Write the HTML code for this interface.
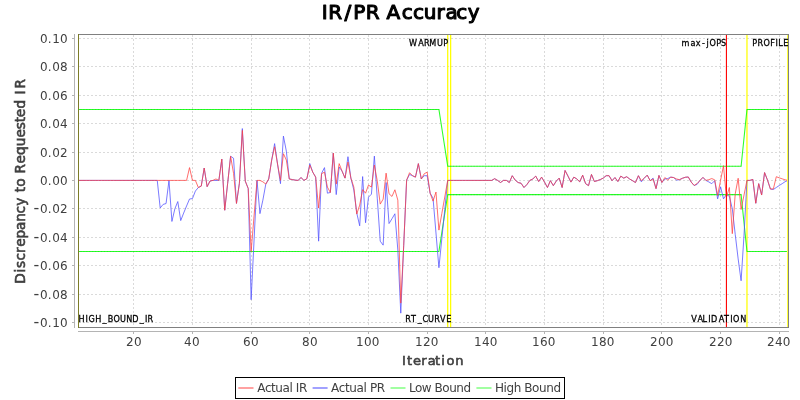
<!DOCTYPE html>
<html lang="en"><head><meta charset="utf-8"><title>IR/PR Accuracy</title>
<style>html,body{margin:0;padding:0;background:#fff;}body{width:800px;height:400px;overflow:hidden;}svg{display:block;}text{font-family:'DejaVu Sans','Liberation Sans',sans-serif;}</style>
</head><body>
<svg width="800" height="400" viewBox="0 0 800 400">
<rect x="0" y="0" width="800" height="400" fill="#ffffff"/>
<text x="321.7 328.2 344.4 353.3 365.7 380.1 386.6 401.8 413.0 423.8 436.4 445.5 456.2 467.8" y="19.3" font-size="20" fill="#000" stroke="#000" stroke-width="1.1" stroke-linejoin="round">IR/PR Accuracy</text>
<g stroke="#dadada" stroke-width="1" stroke-dasharray="2,2" shape-rendering="crispEdges" fill="none">
<line x1="133.5" y1="35" x2="133.5" y2="327"/>
<line x1="192.5" y1="35" x2="192.5" y2="327"/>
<line x1="251.5" y1="35" x2="251.5" y2="327"/>
<line x1="309.5" y1="35" x2="309.5" y2="327"/>
<line x1="368.5" y1="35" x2="368.5" y2="327"/>
<line x1="427.5" y1="35" x2="427.5" y2="327"/>
<line x1="485.5" y1="35" x2="485.5" y2="327"/>
<line x1="544.5" y1="35" x2="544.5" y2="327"/>
<line x1="603.5" y1="35" x2="603.5" y2="327"/>
<line x1="661.5" y1="35" x2="661.5" y2="327"/>
<line x1="720.5" y1="35" x2="720.5" y2="327"/>
<line x1="779.5" y1="35" x2="779.5" y2="327"/>
<line x1="79" y1="322.5" x2="788" y2="322.5"/>
<line x1="79" y1="294.5" x2="788" y2="294.5"/>
<line x1="79" y1="265.5" x2="788" y2="265.5"/>
<line x1="79" y1="237.5" x2="788" y2="237.5"/>
<line x1="79" y1="208.5" x2="788" y2="208.5"/>
<line x1="79" y1="180.5" x2="788" y2="180.5"/>
<line x1="79" y1="152.5" x2="788" y2="152.5"/>
<line x1="79" y1="123.5" x2="788" y2="123.5"/>
<line x1="79" y1="95.5" x2="788" y2="95.5"/>
<line x1="79" y1="66.5" x2="788" y2="66.5"/>
<line x1="79" y1="38.5" x2="788" y2="38.5"/>
</g>
<g stroke="#ffff00" stroke-width="1.25" fill="none">
<line x1="447.71" y1="34.5" x2="447.71" y2="327.5"/>
<line x1="450.64" y1="34.5" x2="450.64" y2="327.5"/>
<line x1="746.97" y1="34.5" x2="746.97" y2="327.5"/>
</g>
<clipPath id="pa"><rect x="79" y="35" width="709" height="292"/></clipPath>
<g fill="none" stroke-width="1.05" stroke-linejoin="round" stroke-linecap="round" clip-path="url(#pa)">
<polyline stroke="#20ff20" stroke-opacity="0.95" points="78.04,109.40 438.91,109.40 447.71,166.20 741.10,166.20 746.97,109.40 788.04,109.40"/>
<polyline stroke="#20ff20" stroke-opacity="0.95" points="78.04,251.40 438.91,251.40 447.71,194.60 741.10,194.60 746.97,251.40 788.04,251.40"/>
<line x1="78.04" y1="109.40" x2="439.51" y2="109.40" stroke="#00c000" stroke-opacity="0.35" stroke-dasharray="1 1.9339" stroke-dashoffset="0.5" stroke-linecap="butt"/>
<line x1="447.71" y1="166.20" x2="741.70" y2="166.20" stroke="#00c000" stroke-opacity="0.35" stroke-dasharray="1 1.9339" stroke-dashoffset="0.5" stroke-linecap="butt"/>
<line x1="746.97" y1="109.40" x2="788.64" y2="109.40" stroke="#00c000" stroke-opacity="0.35" stroke-dasharray="1 1.9339" stroke-dashoffset="0.5" stroke-linecap="butt"/>
<line x1="78.04" y1="251.40" x2="439.51" y2="251.40" stroke="#00c000" stroke-opacity="0.35" stroke-dasharray="1 1.9339" stroke-dashoffset="0.5" stroke-linecap="butt"/>
<line x1="447.71" y1="194.60" x2="741.70" y2="194.60" stroke="#00c000" stroke-opacity="0.35" stroke-dasharray="1 1.9339" stroke-dashoffset="0.5" stroke-linecap="butt"/>
<line x1="746.97" y1="251.40" x2="788.64" y2="251.40" stroke="#00c000" stroke-opacity="0.35" stroke-dasharray="1 1.9339" stroke-dashoffset="0.5" stroke-linecap="butt"/>
<polyline stroke="#5555ff" stroke-opacity="0.78" stroke-width="1" points="78.04,180.40 80.97,180.40 83.91,180.40 86.84,180.40 89.78,180.40 92.71,180.40 95.64,180.40 98.58,180.40 101.51,180.40 104.44,180.40 107.38,180.40 110.31,180.40 113.25,180.40 116.18,180.40 119.11,180.40 122.05,180.40 124.98,180.40 127.92,180.40 130.85,180.40 133.78,180.40 136.72,180.40 139.65,180.40 142.59,180.40 145.52,180.40 148.45,180.40 151.39,180.40 154.32,180.40 157.25,180.40 160.19,207.95 163.12,204.40 166.06,203.55 168.99,180.40 171.92,221.44 174.86,208.80 177.79,201.56 180.73,220.59 183.66,213.06 186.59,205.96 189.53,199.00 192.46,198.58 195.40,191.05 198.33,187.50 201.26,186.08 204.20,168.05 207.13,186.65 210.06,180.97 213.00,180.40 215.93,180.40 218.87,180.40 221.80,159.10 224.73,210.22 227.67,183.24 230.60,156.26 233.54,158.25 236.47,203.40 239.40,183.24 242.34,128.57 245.27,181.11 248.21,188.49 251.14,299.68 254.07,240.04 257.01,180.40 259.94,213.63 262.87,200.14 265.81,184.09 268.74,178.98 271.68,160.09 274.61,143.62 277.54,164.07 280.48,183.67 283.41,136.10 286.35,151.15 289.28,178.98 292.21,179.55 295.15,180.12 298.08,180.40 301.02,177.56 303.95,180.40 306.88,178.70 309.82,163.64 312.75,172.16 315.68,177.13 318.62,241.18 321.55,173.30 324.49,167.62 327.42,193.18 330.35,192.47 333.29,153.14 336.22,194.60 339.16,167.05 342.09,171.17 345.02,178.13 347.96,156.69 350.89,178.13 353.83,190.06 356.76,213.06 359.69,225.84 362.63,176.57 365.56,222.72 368.49,197.16 371.43,194.17 374.36,156.12 377.30,198.86 380.23,241.18 383.16,245.15 386.10,182.53 389.03,223.57 391.97,218.74 394.90,213.77 397.83,249.98 400.77,313.17 403.70,245.72 406.64,180.12 409.57,174.44 412.50,175.71 415.44,177.13 418.37,163.64 421.30,178.98 424.24,175.71 427.17,175.71 430.11,193.18 433.04,198.15 435.97,232.94 438.91,267.73 441.84,238.62 444.78,209.51 447.71,180.40 450.64,180.40 453.58,180.40 456.51,180.40 459.44,180.40 462.38,180.40 465.31,180.40 468.25,180.40 471.18,180.40 474.11,180.40 477.05,180.40 479.98,180.40 482.92,180.40 485.85,180.40 488.78,180.40 491.72,180.40 494.65,178.70 497.59,180.40 500.52,182.53 503.45,180.40 506.39,180.40 509.32,182.53 512.25,175.71 515.19,180.12 518.12,182.53 521.06,183.24 523.99,187.50 526.92,184.52 529.86,180.40 532.79,178.98 535.73,176.14 538.66,181.54 541.59,177.13 544.53,182.10 547.46,187.50 550.40,180.68 553.33,185.65 556.26,181.11 559.20,178.13 562.13,187.50 565.06,170.46 568.00,176.14 570.93,182.10 573.87,177.13 576.80,178.98 579.73,181.82 582.67,175.15 585.60,183.67 588.54,185.65 591.47,174.44 594.40,181.54 597.34,180.68 600.27,179.55 603.21,178.13 606.14,175.71 609.07,175.71 612.01,180.68 614.94,177.56 617.87,181.54 620.81,176.14 623.74,178.13 626.68,176.71 629.61,178.98 632.54,180.68 635.48,182.53 638.41,175.71 641.35,181.82 644.28,178.13 647.21,175.15 650.15,180.68 653.08,178.13 656.02,188.64 658.95,175.43 661.88,182.53 664.82,178.98 667.75,178.55 670.68,177.13 673.62,177.56 676.55,180.12 679.49,179.69 682.42,178.27 685.35,177.28 688.29,176.99 691.22,182.10 694.16,185.51 697.09,184.38 700.02,180.40 702.96,177.42 705.89,180.40 708.83,181.96 711.76,183.67 714.69,180.68 717.63,198.86 720.56,186.79 723.49,198.86 726.43,194.46 729.36,196.30 732.30,208.80 735.23,234.36 738.16,258.93 741.10,280.79 744.03,235.07 746.97,180.40 749.90,180.40 752.83,179.41 755.77,203.26 758.70,183.67 761.64,195.03 764.57,172.59 767.50,180.12 770.44,189.06 773.37,189.49 776.30,187.50 779.24,185.51 782.17,183.67 785.11,181.68 788.04,180.40"/>
<polyline stroke="#ff4040" stroke-opacity="0.8" stroke-width="0.95" points="78.04,180.40 80.97,180.40 83.91,180.40 86.84,180.40 89.78,180.40 92.71,180.40 95.64,180.40 98.58,180.40 101.51,180.40 104.44,180.40 107.38,180.40 110.31,180.40 113.25,180.40 116.18,180.40 119.11,180.40 122.05,180.40 124.98,180.40 127.92,180.40 130.85,180.40 133.78,180.40 136.72,180.40 139.65,180.40 142.59,180.40 145.52,180.40 148.45,180.40 151.39,180.40 154.32,180.40 157.25,180.40 160.19,180.40 163.12,180.40 166.06,180.40 168.99,180.40 171.92,180.40 174.86,180.40 177.79,180.40 180.73,180.40 183.66,180.40 186.59,180.40 189.53,167.62 192.46,180.40 195.40,180.40 198.33,187.50 201.26,186.08 204.20,168.05 207.13,186.65 210.06,180.97 213.00,180.40 215.93,178.98 218.87,180.40 221.80,159.10 224.73,210.22 227.67,183.24 230.60,156.26 233.54,173.30 236.47,203.40 239.40,183.24 242.34,130.42 245.27,181.11 248.21,188.49 251.14,251.40 254.07,215.90 257.01,180.40 259.94,180.40 262.87,181.82 265.81,184.09 268.74,178.98 271.68,160.09 274.61,146.75 277.54,164.07 280.48,180.40 283.41,153.70 286.35,160.09 289.28,178.98 292.21,179.55 295.15,180.12 298.08,180.40 301.02,177.56 303.95,180.40 306.88,178.70 309.82,165.06 312.75,172.16 315.68,177.13 318.62,208.09 321.55,173.73 324.49,172.16 327.42,187.07 330.35,192.47 333.29,153.14 336.22,184.09 339.16,163.64 342.09,171.17 345.02,178.13 347.96,162.08 350.89,178.13 353.83,187.07 356.76,214.05 359.69,205.11 362.63,189.63 365.56,193.18 368.49,185.09 371.43,187.07 374.36,165.06 377.30,181.11 380.23,204.11 383.16,199.14 386.10,173.16 389.03,193.75 391.97,196.45 394.90,189.77 397.83,200.14 400.77,303.09 403.70,245.72 406.64,180.12 409.57,172.73 412.50,175.71 415.44,177.13 418.37,163.64 421.30,178.98 424.24,173.73 427.17,172.16 430.11,193.18 433.04,201.13 435.97,192.04 438.91,230.10 441.84,213.49 444.78,197.01 447.71,180.40 450.64,180.40 453.58,180.40 456.51,180.40 459.44,180.40 462.38,180.40 465.31,180.40 468.25,180.40 471.18,180.40 474.11,180.40 477.05,180.40 479.98,180.40 482.92,180.40 485.85,180.40 488.78,180.40 491.72,180.40 494.65,178.70 497.59,180.40 500.52,182.53 503.45,180.40 506.39,180.40 509.32,182.53 512.25,175.71 515.19,180.12 518.12,182.53 521.06,183.24 523.99,187.50 526.92,184.52 529.86,180.40 532.79,178.98 535.73,176.14 538.66,181.54 541.59,177.13 544.53,182.10 547.46,187.50 550.40,180.68 553.33,185.65 556.26,181.11 559.20,178.13 562.13,187.50 565.06,170.46 568.00,176.14 570.93,182.10 573.87,177.13 576.80,178.98 579.73,181.82 582.67,175.15 585.60,183.67 588.54,185.65 591.47,174.44 594.40,181.54 597.34,180.68 600.27,179.55 603.21,178.13 606.14,175.71 609.07,175.71 612.01,180.68 614.94,177.56 617.87,181.54 620.81,176.14 623.74,178.13 626.68,176.71 629.61,178.98 632.54,180.68 635.48,182.53 638.41,175.71 641.35,180.68 644.28,178.13 647.21,175.15 650.15,180.68 653.08,178.98 656.02,188.64 658.95,175.43 661.88,182.53 664.82,177.56 667.75,180.12 670.68,177.13 673.62,177.56 676.55,178.98 679.49,179.69 682.42,178.27 685.35,177.28 688.29,176.99 691.22,182.10 694.16,185.51 697.09,183.52 700.02,180.40 702.96,177.42 705.89,180.40 708.83,179.69 711.76,178.55 714.69,179.83 717.63,195.45 720.56,180.40 723.49,165.77 726.43,197.44 729.36,187.50 732.30,233.65 735.23,193.89 738.16,178.27 741.10,209.51 744.03,195.03 746.97,180.40 749.90,180.40 752.83,179.41 755.77,203.26 758.70,183.67 761.64,195.03 764.57,172.59 767.50,180.12 770.44,189.06 773.37,188.92 776.30,176.71 779.24,177.84 782.17,178.84 785.11,179.83 788.04,180.40"/>
</g>
<line x1="726.43" y1="34.5" x2="726.43" y2="327.5" stroke="#ff0000" stroke-width="1.1"/>
<rect x="78.5" y="34.5" width="710" height="293" fill="none" stroke="#808080" stroke-width="1" shape-rendering="crispEdges"/>
<line x1="78.5" y1="34" x2="78.5" y2="328" stroke="#7c7c28" stroke-width="1" shape-rendering="crispEdges"/>
<line x1="787.5" y1="35" x2="787.5" y2="327" stroke="#ffff3c" stroke-width="1" shape-rendering="crispEdges"/>
<g stroke="#b4b4b4" stroke-width="1" shape-rendering="crispEdges">
<line x1="74.5" y1="34" x2="74.5" y2="328"/>
<line x1="78" y1="331.5" x2="789" y2="331.5"/>
<line x1="72" y1="322.5" x2="74" y2="322.5"/>
<line x1="72" y1="294.5" x2="74" y2="294.5"/>
<line x1="72" y1="265.5" x2="74" y2="265.5"/>
<line x1="72" y1="237.5" x2="74" y2="237.5"/>
<line x1="72" y1="208.5" x2="74" y2="208.5"/>
<line x1="72" y1="180.5" x2="74" y2="180.5"/>
<line x1="72" y1="152.5" x2="74" y2="152.5"/>
<line x1="72" y1="123.5" x2="74" y2="123.5"/>
<line x1="72" y1="95.5" x2="74" y2="95.5"/>
<line x1="72" y1="66.5" x2="74" y2="66.5"/>
<line x1="72" y1="38.5" x2="74" y2="38.5"/>
<line x1="133.5" y1="332" x2="133.5" y2="334"/>
<line x1="192.5" y1="332" x2="192.5" y2="334"/>
<line x1="251.5" y1="332" x2="251.5" y2="334"/>
<line x1="309.5" y1="332" x2="309.5" y2="334"/>
<line x1="368.5" y1="332" x2="368.5" y2="334"/>
<line x1="427.5" y1="332" x2="427.5" y2="334"/>
<line x1="485.5" y1="332" x2="485.5" y2="334"/>
<line x1="544.5" y1="332" x2="544.5" y2="334"/>
<line x1="603.5" y1="332" x2="603.5" y2="334"/>
<line x1="661.5" y1="332" x2="661.5" y2="334"/>
<line x1="720.5" y1="332" x2="720.5" y2="334"/>
<line x1="779.5" y1="332" x2="779.5" y2="334"/>
</g>
<g font-size="12" fill="#404040">
<text y="326.9"><tspan x="33.6" font-size="16">-</tspan><tspan x="39.9 47.7 52.2 60.1">0.10</tspan></text>
<text y="298.5"><tspan x="33.6" font-size="16">-</tspan><tspan x="39.9 47.7 52.2 60.1">0.08</tspan></text>
<text y="270.1"><tspan x="33.6" font-size="16">-</tspan><tspan x="39.9 47.7 52.2 60.1">0.06</tspan></text>
<text y="241.7"><tspan x="33.6" font-size="16">-</tspan><tspan x="39.9 47.7 52.2 60.1">0.04</tspan></text>
<text y="213.3"><tspan x="33.6" font-size="16">-</tspan><tspan x="39.9 47.7 52.2 60.1">0.02</tspan></text>
<text y="184.9" x="39.9 47.7 52.2 60.1">0.00</text>
<text y="156.5" x="39.9 47.7 52.2 60.1">0.02</text>
<text y="128.1" x="39.9 47.7 52.2 60.1">0.04</text>
<text y="99.7" x="39.9 47.7 52.2 60.1">0.06</text>
<text y="71.3" x="39.9 47.7 52.2 60.1">0.08</text>
<text y="42.9" x="39.9 47.7 52.2 60.1">0.10</text>
<text x="125.9 134.1" y="345.9">20</text>
<text x="183.9 192.1" y="345.9">40</text>
<text x="242.9 251.1" y="345.9">60</text>
<text x="301.9 310.1" y="345.9">80</text>
<text x="355.9 363.9 371.8" y="345.9">100</text>
<text x="414.9 422.9 430.8" y="345.9">120</text>
<text x="473.9 481.9 489.8" y="345.9">140</text>
<text x="531.9 539.9 547.8" y="345.9">160</text>
<text x="590.9 598.9 606.8" y="345.9">180</text>
<text x="649.9 657.9 665.8" y="345.9">200</text>
<text x="708.9 716.9 724.8" y="345.9">220</text>
<text x="766.9 774.9 782.8" y="345.9">240</text>
</g>
<text x="401.96 406.93 412.99 421.24 427.84 435.06 441.19 446.40 455.34" y="364.9" font-size="13" fill="#404040" stroke="#404040" stroke-width="0.6">Iteration</text>
<text transform="translate(24.6,282.8) rotate(-90)" x="-0.9 10.3 14.7 22.3 29.8 36.0 44.2 52.8 61.1 69.4 77.1 85.6 90.5 96.0 104.5 109.4 119.2 127.7 136.5 145.2 153.5 160.5 165.6 174.4 182.9 188.2 194.4" y="0" font-size="13.6" fill="#404040" stroke="#404040" stroke-width="0.6">Discrepancy to Requested IR</text>
<g font-size="9" fill="#000" stroke="#000" stroke-width="0.3">
<text x="87.12 94.98 98.24 105.87 113.86 119.65 126.12 133.37 140.19 147.08 155.25 161.03 163.84" y="321.8" transform="scale(0.9,1)">HIGH_BOUND_IR</text>
<text x="454.49 464.59 471.01 476.89 485.60 492.39" y="45.8" transform="scale(0.9,1)">WARMUP</text>
<text x="450.17 456.70 464.08 469.43 475.54 482.39 488.87 495.95" y="321.8" transform="scale(0.9,1)">RT_CURVE</text>
<text x="757.26 767.30 772.97 779.96 785.09 788.24 795.83 801.07" y="45.8" transform="scale(0.9,1)">max-jOPS</text>
<text x="768.15 775.03 780.63 786.90 790.11 798.59 804.56 811.31 814.57 822.47" y="321.8" transform="scale(0.9,1)">VALIDATION</text>
<text x="835.78 841.62 848.26 855.84 861.59 864.80 870.28" y="45.8" transform="scale(0.9,1)">PROFILE</text>
</g>
<rect x="235.5" y="377.5" width="329" height="21" fill="#fff" stroke="#000" stroke-width="1" shape-rendering="crispEdges"/>
<g stroke-width="1.1" fill="none">
<line x1="238.3" y1="388" x2="253.5" y2="388" stroke="#ff5555"/>
<line x1="312.6" y1="388" x2="327.6" y2="388" stroke="#5555ff"/>
<line x1="390.5" y1="388" x2="405.5" y2="388" stroke="#55ff55"/>
<line x1="476.4" y1="388" x2="491.5" y2="388" stroke="#55ff55"/>
</g>
<g font-size="12" fill="#404040">
<text x="257.3" y="392.2" textLength="50" lengthAdjust="spacing">Actual IR</text>
<text x="331.1" y="392.2" textLength="54" lengthAdjust="spacing">Actual PR</text>
<text x="409" y="392.2" textLength="62" lengthAdjust="spacing">Low Bound</text>
<text x="495" y="392.2" textLength="66" lengthAdjust="spacing">High Bound</text>
</g>
</svg>
</body></html>
